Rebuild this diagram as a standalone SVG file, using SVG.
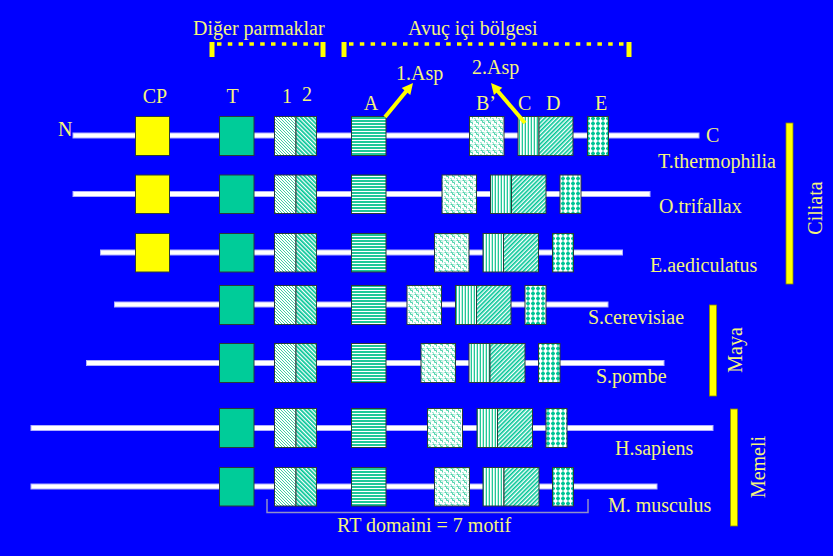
<svg xmlns="http://www.w3.org/2000/svg" width="833" height="556" viewBox="0 0 833 556">
  <style>
    text { font-family: "Liberation Serif", "Times New Roman", serif; font-size: 20px; fill: #F4F47C; }
    .mid { text-anchor: middle; }
    .ln { fill: #FFFFFF; stroke: #B0B0FF; stroke-width: 1; }
    .bx { stroke: #2A3A3A; stroke-width: 1; }
    .cp { fill: #FFFF00; }
    .t  { fill: #00CC99; }
    .m1 { fill: url(#pFine); }
    .m2 { fill: url(#pBack); }
    .ma { fill: url(#pHor); }
    .mb { fill: url(#pWeave); }
    .mc { fill: url(#pVert); }
    .md { fill: url(#pFwd); }
    .me { fill: url(#pDots); }
    .bar { fill: #FFFF00; stroke: #8A8A00; stroke-width: 0.8; }
    .brk { fill: #FFFF00; }
    .dash { stroke: #FFFF00; stroke-width: 3.6; stroke-dasharray: 4.5 6.3; fill: none; }
    .rt { fill: none; stroke: #9090C8; stroke-width: 1.5; }
    .arr { stroke: #FFFF00; stroke-width: 4; fill: none; }
    .head { fill: #FFFF00; }
  </style>
  <defs>
    <!-- motif 1: fine diagonal grain -->
    <pattern id="pFine" width="3" height="3" patternUnits="userSpaceOnUse">
      <rect width="3" height="3" fill="#FFFFFF"/>
      <rect x="0" y="0" width="1" height="1" fill="#3FCFA2"/>
      <rect x="1" y="1" width="1" height="1" fill="#3FCFA2"/>
      <rect x="2" y="2" width="1" height="1" fill="#3FCFA2"/>
    </pattern>
    <!-- motif 2: backward diagonal stripes -->
    <pattern id="pBack" width="3" height="3" patternUnits="userSpaceOnUse" patternTransform="rotate(-45)">
      <rect width="3" height="3" fill="#FFFFFF"/>
      <rect width="1.7" height="3" fill="#00C596"/>
    </pattern>
    <!-- motif A: horizontal stripes -->
    <pattern id="pHor" width="4" height="3" patternUnits="userSpaceOnUse">
      <rect width="4" height="3" fill="#FFFFFF"/>
      <rect width="4" height="2" fill="#1FC898"/>
    </pattern>
    <!-- motif B': curly weave -->
    <pattern id="pWeave" width="6" height="6" patternUnits="userSpaceOnUse">
      <rect width="6" height="6" fill="#FFFFFF"/>
      <path d="M0.5,0.5 h2 v2 h2 v2" stroke="#4FD4AC" stroke-width="1" fill="none"/>
      <path d="M3.5,0 v1 h2 M0,4.5 h1.5 v1.5" stroke="#9BE6D0" stroke-width="1" fill="none"/>
    </pattern>
    <!-- motif C: vertical stripes -->
    <pattern id="pVert" width="3" height="4" patternUnits="userSpaceOnUse">
      <rect width="3" height="4" fill="#FFFFFF"/>
      <rect width="1" height="4" fill="#22C898"/>
      <rect x="2" width="1" height="4" fill="#B8EEDD"/>
    </pattern>
    <!-- motif D: forward diagonal stripes -->
    <pattern id="pFwd" width="3" height="3" patternUnits="userSpaceOnUse" patternTransform="rotate(45)">
      <rect width="3" height="3" fill="#FFFFFF"/>
      <rect width="1.6" height="3" fill="#00C596"/>
    </pattern>
    <!-- motif E: plus-shaped dots -->
    <pattern id="pDots" width="5" height="5" patternUnits="userSpaceOnUse" x="1" y="1">
      <rect width="5" height="5" fill="#FFFFFF"/>
      <rect x="1" y="0.5" width="2" height="4" fill="#00C596"/>
      <rect x="0" y="1.5" width="4" height="2" fill="#00C596"/>
    </pattern>
  </defs>

  <rect width="833" height="556" fill="#0000FF"/>

  <!-- region brackets -->
  <g id="bracket-fingers">
    <text x="193" y="35">Diğer parmaklar</text>
    <rect class="brk" x="209.5" y="42" width="5" height="15"/>
    <rect class="brk" x="320.5" y="42" width="5" height="15"/>
    <line class="dash" x1="217" y1="44" x2="320" y2="44"/>
  </g>
  <g id="bracket-palm">
    <text x="408" y="35">Avuç içi bölgesi</text>
    <rect class="brk" x="341.5" y="42" width="5" height="15"/>
    <rect class="brk" x="626.5" y="42" width="5" height="15"/>
    <line class="dash" x1="349" y1="44" x2="626" y2="44"/>
  </g>

  <!-- motif labels -->
  <g id="motif-labels">
    <text class="mid" x="155" y="103">CP</text>
    <text class="mid" x="232.5" y="103">T</text>
    <text x="282" y="103">1</text>
    <text x="302" y="101">2</text>
    <text class="mid" x="371" y="110">A</text>
    <text x="476" y="110">B’</text>
    <text x="518" y="110">C</text>
    <text x="546" y="110">D</text>
    <text x="595" y="110">E</text>
    <text x="58" y="136">N</text>
    <text x="706" y="142">C</text>
  </g>

  <!-- T. thermophilia -->
  <g id="row-tthermophilia">
    <rect class="ln" x="73" y="133" width="626" height="5"/>
    <rect class="bx cp" x="135.5" y="116.5" width="34" height="39"/>
    <rect class="bx t" x="219.5" y="116.5" width="34.5" height="39"/>
    <rect class="bx m1" x="274.5" y="116.5" width="21.5" height="39"/>
    <rect class="bx m2" x="296" y="116.5" width="20.5" height="39"/>
    <rect class="bx ma" x="351.5" y="116.5" width="34.5" height="39"/>
    <rect class="bx mb" x="469.5" y="116.5" width="34.5" height="39"/>
    <rect class="bx mc" x="518" y="116.5" width="21" height="39"/>
    <rect class="bx md" x="539" y="116.5" width="34" height="39"/>
    <rect class="bx me" x="587.5" y="116.5" width="21" height="39"/>
    <text x="658" y="168">T.thermophilia</text>
  </g>

  <!-- O. trifallax -->
  <g id="row-otrifallax">
    <rect class="ln" x="73" y="191.5" width="577" height="5"/>
    <rect class="bx cp" x="135.5" y="175" width="34" height="38.5"/>
    <rect class="bx t" x="219.5" y="175" width="34.5" height="38.5"/>
    <rect class="bx m1" x="274.5" y="175" width="21.5" height="38.5"/>
    <rect class="bx m2" x="296" y="175" width="20.5" height="38.5"/>
    <rect class="bx ma" x="351.5" y="175" width="34.5" height="38.5"/>
    <rect class="bx mb" x="442" y="175" width="34.5" height="38.5"/>
    <rect class="bx mc" x="490.5" y="175" width="21" height="38.5"/>
    <rect class="bx md" x="511.5" y="175" width="34.5" height="38.5"/>
    <rect class="bx me" x="560" y="175" width="21" height="38.5"/>
    <text x="659" y="213">O.trifallax</text>
  </g>

  <!-- E. aediculatus -->
  <g id="row-eaediculatus">
    <rect class="ln" x="100.5" y="250" width="522" height="5"/>
    <rect class="bx cp" x="135.5" y="233.5" width="34" height="38.5"/>
    <rect class="bx t" x="219.5" y="233.5" width="34.5" height="38.5"/>
    <rect class="bx m1" x="274.5" y="233.5" width="21.5" height="38.5"/>
    <rect class="bx m2" x="296" y="233.5" width="20.5" height="38.5"/>
    <rect class="bx ma" x="351.5" y="233.5" width="34.5" height="38.5"/>
    <rect class="bx mb" x="434.5" y="233.5" width="34.5" height="38.5"/>
    <rect class="bx mc" x="483" y="233.5" width="20.5" height="38.5"/>
    <rect class="bx md" x="503.5" y="233.5" width="35" height="38.5"/>
    <rect class="bx me" x="552.5" y="233.5" width="21" height="38.5"/>
    <text x="650" y="272">E.aediculatus</text>
  </g>

  <!-- S. cerevisiae -->
  <g id="row-scerevisiae">
    <rect class="ln" x="114.5" y="302" width="493.5" height="5"/>
    <rect class="bx t" x="219.5" y="285.5" width="34.5" height="39"/>
    <rect class="bx m1" x="274.5" y="285.5" width="21.5" height="39"/>
    <rect class="bx m2" x="296" y="285.5" width="20.5" height="39"/>
    <rect class="bx ma" x="351.5" y="285.5" width="34.5" height="39"/>
    <rect class="bx mb" x="407" y="285.5" width="34.5" height="39"/>
    <rect class="bx mc" x="455.5" y="285.5" width="21" height="39"/>
    <rect class="bx md" x="476.5" y="285.5" width="34.5" height="39"/>
    <rect class="bx me" x="525" y="285.5" width="21" height="39"/>
    <text x="588" y="324">S.cerevisiae</text>
  </g>

  <!-- S. pombe -->
  <g id="row-spombe">
    <rect class="ln" x="86.5" y="360.5" width="577.5" height="5"/>
    <rect class="bx t" x="219.5" y="343.5" width="34.5" height="39"/>
    <rect class="bx m1" x="274.5" y="343.5" width="21.5" height="39"/>
    <rect class="bx m2" x="296" y="343.5" width="20.5" height="39"/>
    <rect class="bx ma" x="351.5" y="343.5" width="34.5" height="39"/>
    <rect class="bx mb" x="421" y="343.5" width="34.5" height="39"/>
    <rect class="bx mc" x="469" y="343.5" width="21" height="39"/>
    <rect class="bx md" x="490" y="343.5" width="35" height="39"/>
    <rect class="bx me" x="538.5" y="343.5" width="21.5" height="39"/>
    <text x="596" y="383">S.pombe</text>
  </g>

  <!-- H. sapiens -->
  <g id="row-hsapiens">
    <rect class="ln" x="31" y="425.5" width="682" height="5"/>
    <rect class="bx t" x="219.5" y="408.5" width="34.5" height="39"/>
    <rect class="bx m1" x="274.5" y="408.5" width="21.5" height="39"/>
    <rect class="bx m2" x="296" y="408.5" width="20.5" height="39"/>
    <rect class="bx ma" x="351.5" y="408.5" width="34.5" height="39"/>
    <rect class="bx mb" x="427.5" y="408.5" width="35" height="39"/>
    <rect class="bx mc" x="477" y="408.5" width="20.5" height="39"/>
    <rect class="bx md" x="497.5" y="408.5" width="35" height="39"/>
    <rect class="bx me" x="546" y="408.5" width="21" height="39"/>
    <text x="615" y="455">H.sapiens</text>
  </g>

  <!-- M. musculus -->
  <g id="row-mmusculus">
    <rect class="ln" x="31" y="484" width="626" height="5"/>
    <rect class="bx t" x="219.5" y="467.5" width="34.5" height="38.5"/>
    <rect class="bx m1" x="274.5" y="467.5" width="21.5" height="38.5"/>
    <rect class="bx m2" x="296" y="467.5" width="20.5" height="38.5"/>
    <rect class="bx ma" x="351.5" y="467.5" width="34.5" height="38.5"/>
    <rect class="bx mb" x="434.5" y="467.5" width="35" height="38.5"/>
    <rect class="bx mc" x="483" y="467.5" width="21" height="38.5"/>
    <rect class="bx md" x="504" y="467.5" width="35" height="38.5"/>
    <rect class="bx me" x="552.5" y="467.5" width="21" height="38.5"/>
    <text x="608" y="512">M. musculus</text>
  </g>

  <!-- RT domain span -->
  <g id="rt-domain">
    <path class="rt" d="M267,499 V512.5 H588 V499"/>
    <text x="337" y="532">RT domaini = 7 motif</text>
  </g>

  <!-- taxonomic groups -->
  <g id="group-ciliata">
    <rect class="bar" x="786" y="123" width="7" height="161"/>
    <text class="mid" transform="translate(822,208) rotate(-90)">Ciliata</text>
  </g>
  <g id="group-maya">
    <rect class="bar" x="709.5" y="305" width="7" height="91"/>
    <text class="mid" transform="translate(742,350) rotate(-90)">Maya</text>
  </g>
  <g id="group-memeli">
    <rect class="bar" x="730.5" y="409" width="7" height="117"/>
    <text class="mid" transform="translate(765,467) rotate(-90)">Memeli</text>
  </g>

  <!-- catalytic aspartate pointers -->
  <g id="connectors">
    <line class="arr" x1="385" y1="117" x2="407" y2="90.3"/>
    <polygon class="head" points="413,83 410.3,95.1 401.7,88"/>
    <text x="396" y="80">1.Asp</text>
    <line class="arr" x1="525" y1="123" x2="497.5" y2="90.7"/>
    <polygon class="head" points="491,83 502.3,87.8 493.9,95"/>
    <text x="472" y="74">2.Asp</text>
  </g>
</svg>
